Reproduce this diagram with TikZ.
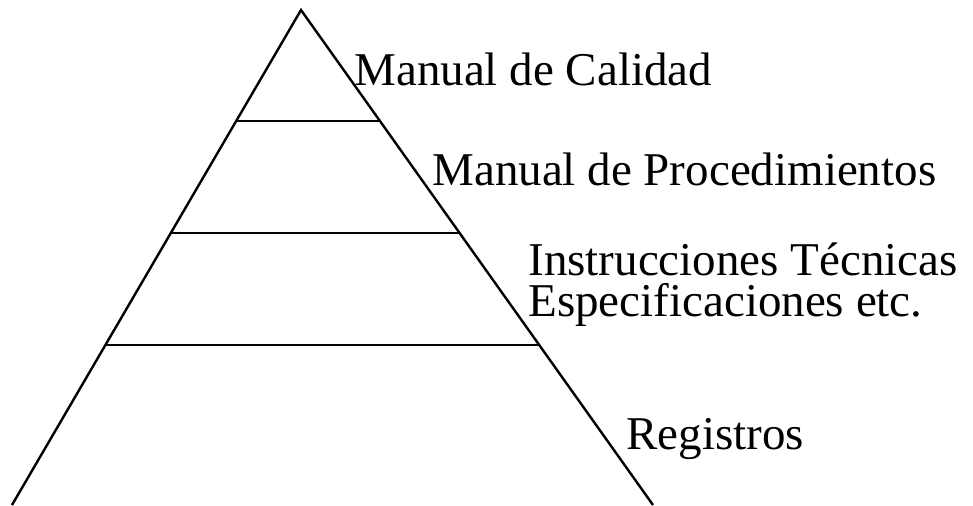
\documentclass[tikz,border=0pt]{standalone}
\usepackage{fontspec}
\setmainfont{Liberation Serif}
\usetikzlibrary{positioning}

\begin{document}
\begin{tikzpicture}[x=0.5pt, y=-0.5pt,
          side/.style = {line width=1.2pt},
          level/.style = {anchor=base west, inner sep=0pt,
                          font=\fontsize{23.5}{20}\selectfont}
        ]
        \useasboundingbox (0,0) rectangle (973,505);

        % --- pyramid corners
        \coordinate (apex) at (301,10);
        \coordinate (BL)   at (12,505);
        \coordinate (BR)   at (653,505);

        % points on the sides for the dividing lines
        \path (apex) -- (BL) coordinate[pos=0.224] (L1)
                             coordinate[pos=0.4505] (L2)
                             coordinate[pos=0.677] (L3);
        \path (apex) -- (BR) coordinate[pos=0.224] (R1)
                             coordinate[pos=0.4505] (R2)
                             coordinate[pos=0.677] (R3);

        % --- sides and levels
        \draw[side] (BL) -- (apex) -- (BR);
        \draw[side] (L1) -- (R1);
        \draw[side] (L2) -- (R2);
        \draw[side] (L3) -- (R3);

        % --- labels
        \node[level] (cal)   at (354,85)  {Manual de Calidad};
        \node[level] (proc)  at (432,185) {Manual de Procedimientos};
        \node[level] (inst)  at (528,275) {Instrucciones Técnicas};
        \node[level] (espec) at (528,316) {Especificaciones etc.};
        \node[level] (reg)   at (626,449) {Registros};
    \end{tikzpicture}
\end{document}
